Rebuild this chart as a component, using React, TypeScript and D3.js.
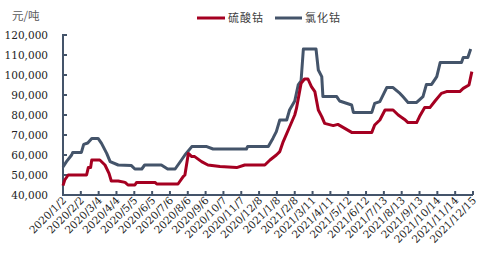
import React from "react";
import * as d3 from "d3";

const tickLabels = [
  "2020/1/2", "2020/2/2", "2020/3/4", "2020/4/4", "2020/5/5", "2020/6/5",
  "2020/7/6", "2020/8/6", "2020/9/6", "2020/10/7", "2020/11/7", "2020/12/8",
  "2021/1/8", "2021/2/8", "2021/3/11", "2021/4/11", "2021/5/12", "2021/6/12",
  "2021/7/13", "2021/8/13", "2021/9/13", "2021/10/14", "2021/11/14", "2021/12/15",
];
const yTicks = [40000, 50000, 60000, 70000, 80000, 90000, 100000, 110000, 120000];

const seriesNames = ["硫酸钴", "氯化钴"];

const sulfateDates = [
  "2020/1/2", "2020/1/5", "2020/1/11", "2020/2/12", "2020/2/15", "2020/2/19", "2020/2/21",
  "2020/3/6", "2020/3/15", "2020/3/22", "2020/3/26", "2020/4/7", "2020/4/19", "2020/4/24",
  "2020/5/6", "2020/5/9", "2020/6/10", "2020/6/13", "2020/7/20", "2020/7/29", "2020/8/1",
  "2020/8/7", "2020/8/13", "2020/8/18", "2020/8/30", "2020/9/10", "2020/10/1", "2020/10/30",
  "2020/11/13", "2020/12/18", "2020/12/27", "2021/1/7", "2021/1/13", "2021/1/19", "2021/1/30",
  "2021/2/8", "2021/2/11", "2021/2/19", "2021/2/25", "2021/3/3", "2021/3/9", "2021/3/15",
  "2021/3/21", "2021/3/27", "2021/4/1", "2021/4/16", "2021/4/24", "2021/5/6", "2021/5/18",
  "2021/6/22", "2021/6/27", "2021/7/6", "2021/7/15", "2021/7/29", "2021/8/7", "2021/8/18",
  "2021/8/24", "2021/9/8", "2021/9/13", "2021/9/22", "2021/10/1", "2021/10/10", "2021/10/21",
  "2021/10/30", "2021/11/22", "2021/11/28", "2021/12/8", "2021/12/13",
];
const sulfateValues = [
  44700, 47500, 50000, 50000, 53700, 53700, 57500,
  57500, 55000, 50800, 47000, 47000, 46300, 45000,
  45000, 46300, 46300, 45500, 45500, 49200, 50000,
  60800, 59200, 59200, 56700, 55000, 54200, 53700,
  55000, 55000, 57500, 60000, 61700, 66700, 74000,
  80000, 83300, 95800, 98000, 98000, 94200, 91700,
  82500, 79200, 75800, 74700, 75300, 73300, 71300,
  71300, 75000, 77500, 82500, 82500, 80000, 77800,
  76200, 76200, 79200, 83700, 83700, 87000, 90800,
  91700, 91700, 93300, 95000, 101700,
];

const chlorideDates = [
  "2020/1/2", "2020/1/8", "2020/1/17", "2020/1/19", "2020/2/3", "2020/2/7", "2020/2/14",
  "2020/2/21", "2020/3/3", "2020/3/9", "2020/3/18", "2020/3/24", "2020/4/7", "2020/4/30",
  "2020/5/6", "2020/5/18", "2020/5/23", "2020/6/21", "2020/7/2", "2020/7/15", "2020/7/26",
  "2020/8/1", "2020/8/13", "2020/9/8", "2020/9/19", "2020/11/16", "2020/11/18", "2020/12/24",
  "2021/1/1", "2021/1/7", "2021/1/13", "2021/1/25", "2021/1/30", "2021/2/8", "2021/2/14",
  "2021/2/19", "2021/2/23", "2021/3/17", "2021/3/21", "2021/3/27", "2021/3/29", "2021/4/22",
  "2021/4/27", "2021/5/18", "2021/5/21", "2021/6/22", "2021/6/27", "2021/7/6", "2021/7/18",
  "2021/7/29", "2021/8/10", "2021/8/15", "2021/8/24", "2021/9/8", "2021/9/19", "2021/9/25",
  "2021/10/4", "2021/10/13", "2021/10/19", "2021/11/25", "2021/11/28", "2021/12/6", "2021/12/11",
];
const chlorideValues = [
  54000, 56700, 60000, 61300, 61300, 65300, 66000,
  68300, 68300, 65800, 60800, 56700, 55000, 54700,
  53000, 53000, 55000, 55000, 53000, 53000, 57500,
  60000, 64200, 64200, 63000, 63000, 64200, 64200,
  68300, 71700, 77500, 77500, 82500, 87000, 95000,
  97000, 113000, 113000, 102500, 99200, 89200, 89200,
  87000, 85000, 81300, 81300, 85800, 86700, 93700,
  93700, 90800, 89200, 86300, 86300, 89200, 95300,
  95300, 99200, 106300, 106300, 108800, 108800, 113000,
];

const parse = d3.utcParse("%Y/%m/%d");

export default function App() {
  const W = 491, H = 265;
  const x = d3.scaleUtc()
    .domain([parse(tickLabels[0])!, parse(tickLabels[tickLabels.length - 1])!])
    .range([63, 473]);
  const y = d3.scaleLinear().domain([40000, 120000]).range([195, 35]);
  const fmt = d3.format(",");

  const line = d3.line<[Date, number]>()
    .x((d) => x(d[0]))
    .y((d) => y(d[1]));

  const sulfate: [Date, number][] = sulfateDates.map((d, i) => [parse(d)!, sulfateValues[i]]);
  const chloride: [Date, number][] = chlorideDates.map((d, i) => [parse(d)!, chlorideValues[i]]);

  const axisColor = "#44546A";
  const red = "#A50021";
  const labelFont = "'DejaVu Serif', 'Liberation Serif', serif";

  return (
    <svg width={W} height={H} style={{ position: "absolute", left: 0, top: 0, background: "#fff" }}>
      <rect x={0} y={0} width={W} height={H} fill="#fff" />
      {/* unit */}
      <text x={12} y={20} fontSize={11.5} fill="#595959"
        fontFamily="'Noto Sans CJK SC', sans-serif">元/吨</text>

      {/* y ticks */}
      {yTicks.map((t) => (
        <g key={t}>
          <text x={48} y={y(t) + 3.8} textAnchor="end" fontSize={10.5} fill="#222"
            fontFamily={labelFont}>{fmt(t)}</text>
          <line x1={63} x2={67} y1={y(t)} y2={y(t)} stroke={axisColor} strokeWidth={2} />
        </g>
      ))}

      {/* x ticks */}
      {tickLabels.map((t) => {
        const px = x(parse(t)!);
        return (
          <g key={t}>
            <line x1={px} x2={px} y1={195} y2={191} stroke={axisColor} strokeWidth={2} />
            <text transform={`translate(${px + 4},${201}) rotate(-45)`} textAnchor="end"
              fontSize={10.5} fill="#222" fontFamily={labelFont}>{t}</text>
          </g>
        );
      })}

      {/* axes */}
      <line x1={63} x2={63} y1={34} y2={196} stroke={axisColor} strokeWidth={2} />
      <line x1={62} x2={473} y1={195} y2={195} stroke={axisColor} strokeWidth={2} />

      {/* series */}
      <path d={line(chloride) ?? ""} fill="none" stroke={axisColor} strokeWidth={3} strokeLinejoin="round" />
      <path d={line(sulfate) ?? ""} fill="none" stroke={red} strokeWidth={3} strokeLinejoin="round" />

      {/* legend */}
      <line x1={197} x2={225} y1={18} y2={18} stroke={red} strokeWidth={3} />
      <text x={228} y={22} fontSize={11} fill="#404040" letterSpacing={1}
        fontFamily="'Noto Sans CJK SC', sans-serif">{seriesNames[0]}</text>
      <line x1={275} x2={302} y1={18} y2={18} stroke={axisColor} strokeWidth={3} />
      <text x={305} y={22} fontSize={11} fill="#404040" letterSpacing={1}
        fontFamily="'Noto Sans CJK SC', sans-serif">{seriesNames[1]}</text>
    </svg>
  );
}
